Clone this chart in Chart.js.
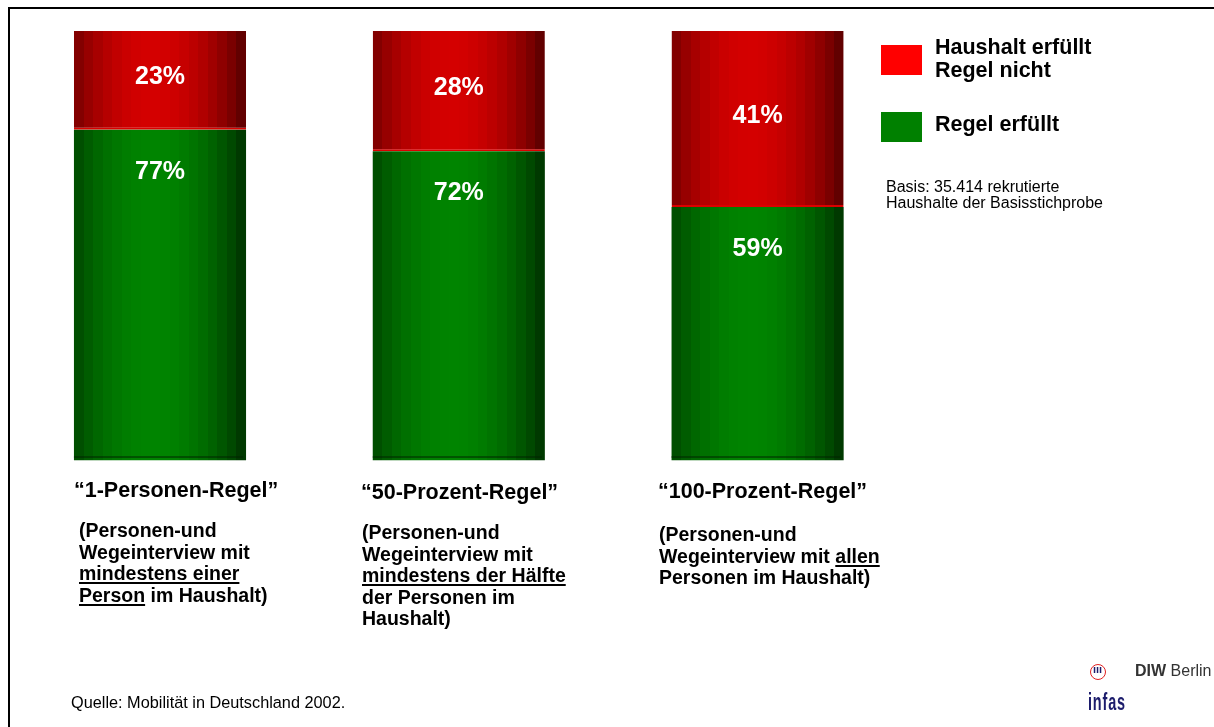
<!DOCTYPE html>
<html lang="de">
<head>
    <meta charset="UTF-8">
    <title>Regelerfüllung Haushalte</title>
    <script src="https://cdn.jsdelivr.net/npm/chart.js"></script>
    <style>
        html, body { margin: 0; padding: 0; background: #fff; }
        body { width: 1214px; height: 727px; overflow: hidden; position: relative; font-family: "Liberation Sans", Arial, sans-serif; }
        #rahmen { position: absolute; left: 8px; top: 7px; width: 1220px; height: 740px; border-left: 2px solid #000; border-top: 2px solid #000; }
        #chart { position: absolute; left: 0; top: 0; }
        .titel { position: absolute; font-weight: bold; font-size: 21.5px; line-height: 24px; color: #000; white-space: nowrap; }
        .beschr { position: absolute; font-weight: bold; font-size: 19.5px; line-height: 21.5px; color: #000; white-space: nowrap; }
        .beschr u { text-decoration-thickness: 1.5px; text-underline-offset: 2px; }
        .leg-box { position: absolute; left: 881px; width: 41px; height: 30px; }
        .leg-text { position: absolute; left: 935px; font-weight: bold; font-size: 21.5px; line-height: 23px; color: #000; white-space: nowrap; }
        .klein { position: absolute; font-size: 16px; line-height: 16px; color: #000; white-space: nowrap; }
        #diw { position: absolute; left: 1135px; top: 662px; font-size: 16px; color: #333; white-space: nowrap; }
        #infas { position: absolute; left: 1088px; top: 688px; font-family: "Liberation Sans Narrow", "Liberation Sans", sans-serif; font-weight: bold; font-size: 17px; color: #1c1c6c; letter-spacing: 1px; transform: scaleX(0.85) scaleY(1.45); transform-origin: top left; }
        #diwlogo { position: absolute; left: 1090px; top: 664px; width: 14px; height: 14px; border: 1.5px solid #e02020; border-radius: 50%; }
        #diwlogo::after { content: "ııı"; position: absolute; left: 2px; top: -2px; font-size: 11px; font-weight: bold; color: #1c1c6c; }
    </style>
</head>
<body>
    <div id="rahmen"></div>
    <canvas id="chart" width="1214" height="727"></canvas>

    <!-- Kategorien unter den Säulen -->
    <div class="titel" style="left:74px; top:478px;">“1-Personen-Regel”</div>
    <div class="titel" style="left:361px; top:480px;">“50-Prozent-Regel”</div>
    <div class="titel" style="left:658px; top:479px;">“100-Prozent-Regel”</div>

    <div class="beschr" style="left:79px; top:520px;">(Personen-und<br>Wegeinterview mit<br><u>mindestens einer</u><br><u>Person</u> im Haushalt)</div>
    <div class="beschr" style="left:362px; top:522px;">(Personen-und<br>Wegeinterview mit<br><u>mindestens der Hälfte</u><br>der Personen im<br>Haushalt)</div>
    <div class="beschr" style="left:659px; top:524px;">(Personen-und<br>Wegeinterview mit <u>allen</u><br>Personen im Haushalt)</div>

    <!-- Legende -->
    <div class="leg-box" style="top:45px; background:#ff0000;"></div>
    <div class="leg-text" style="top:36px;">Haushalt erfüllt<br>Regel nicht</div>
    <div class="leg-box" style="top:112px; background:#008000;"></div>
    <div class="leg-text" style="top:113px;">Regel erfüllt</div>

    <div class="klein" style="left:886px; top:179px;">Basis: 35.414 rekrutierte<br>Haushalte der Basisstichprobe</div>
    <div class="klein" style="left:71px; top:694px; font-size:16.3px;">Quelle: Mobilität in Deutschland 2002.</div>

    <div id="diwlogo"></div>
    <div id="diw"><b>DIW</b> Berlin</div>
    <div id="infas">infas</div>

    <script>
        // Daten
        const kategorien = ['1-Personen-Regel', '50-Prozent-Regel', '100-Prozent-Regel'];
        const regelErfuellt = [77, 72, 59];
        const regelNichtErfuellt = [23, 28, 41];

        const BAR_PCT = 0.576;

        // Zylinder-Verlauf mit leichten Streifen wie im Original
        function saeulenVerlauf(context, dunkel, hell) {
            const chart = context.chart;
            const { ctx, chartArea, scales } = chart;
            if (!chartArea || !scales.x) return 'rgb(' + hell.join(',') + ')';
            const xMitte = scales.x.getPixelForValue(context.dataIndex);
            const breite = (scales.x.width / kategorien.length) * BAR_PCT;
            const x0 = xMitte - breite / 2;
            const grad = ctx.createLinearGradient(x0, 0, x0 + breite, 0);
            const streifen = 18;
            for (let i = 0; i < streifen; i++) {
                const t = (i + 0.5) / streifen;
                const f = Math.max(0, 1 - Math.pow((t - 0.46) / 0.52, 2));
                const c = dunkel.map((d, k) => Math.round(d + (hell[k] - d) * f));
                const farbe = 'rgb(' + c.join(',') + ')';
                grad.addColorStop(i / streifen, farbe);
                grad.addColorStop((i + 1) / streifen, farbe);
            }
            return grad;
        }

        const wertePlugin = {
            id: 'werte',
            afterDatasetsDraw(chart) {
                const ctx = chart.ctx;
                ctx.save();
                // dunkle Linie am Säulenfuß
                const gruen = chart.getDatasetMeta(0);
                gruen.data.forEach(el => {
                    ctx.strokeStyle = '#002400';
                    ctx.lineWidth = 1;
                    ctx.beginPath();
                    ctx.moveTo(el.x - el.width / 2, el.base - 3.5);
                    ctx.lineTo(el.x + el.width / 2 - 3, el.base - 3.5);
                    ctx.stroke();
                });
                ctx.fillStyle = '#fff';
                ctx.font = 'bold 25px "Liberation Sans", Arial, sans-serif';
                ctx.textAlign = 'center';
                ctx.textBaseline = 'middle';
                chart.data.datasets.forEach((ds, di) => {
                    chart.getDatasetMeta(di).data.forEach((el, i) => {
                        const y = di === 1 ? (el.y + el.base) / 2 - 3 : el.y + 42;
                        ctx.fillText(ds.data[i] + '%', el.x, y);
                    });
                });
                ctx.restore();
            }
        };

        new Chart(document.getElementById('chart').getContext('2d'), {
            type: 'bar',
            data: {
                labels: kategorien,
                datasets: [
                    {
                        label: 'Regel erfüllt',
                        data: regelErfuellt,
                        backgroundColor: ctx => saeulenVerlauf(ctx, [0, 55, 0], [0, 132, 0]),
                        borderWidth: 0,
                        barPercentage: BAR_PCT,
                        categoryPercentage: 1
                    },
                    {
                        label: 'Haushalt erfüllt Regel nicht',
                        data: regelNichtErfuellt,
                        backgroundColor: ctx => saeulenVerlauf(ctx, [95, 0, 0], [212, 0, 0]),
                        borderColor: '#dc0000',
                        borderWidth: { top: 0, left: 0, right: 0, bottom: 2 },
                        borderSkipped: false,
                        barPercentage: BAR_PCT,
                        categoryPercentage: 1
                    }
                ]
            },
            options: {
                responsive: false,
                animation: false,
                layout: { padding: { left: 10.6, right: 307, top: 31, bottom: 266.5 } },
                scales: {
                    x: { stacked: true, display: false },
                    y: { stacked: true, display: false, min: 0, max: 100 }
                },
                plugins: {
                    legend: { display: false },
                    tooltip: { enabled: false }
                }
            },
            plugins: [wertePlugin]
        });
    </script>
</body>
</html>
